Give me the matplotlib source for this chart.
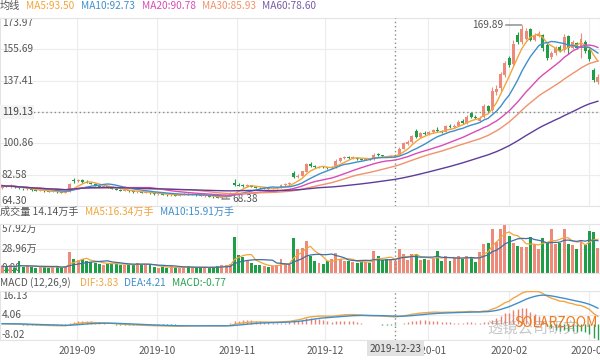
import numpy as np
import pandas as pd
import matplotlib
matplotlib.use("Agg")
import matplotlib.pyplot as plt

plt.rcParams['font.family'] = ['Noto Sans CJK SC', 'DejaVu Sans']

# daily candles, 2019-08 .. 2020-03 (index axis)
opens = [74.8, 76.0, 75.5, 75.8, 75.3, 74.5, 74.0, 74.2, 73.6, 73.1,
         73.3, 72.8, 72.5, 72.8, 72.2, 72.0, 72.5, 79.5, 78.6, 79.3,
         78.5, 77.9, 77.2, 76.0, 75.6, 75.8, 75.1, 74.4, 73.7, 73.2,
         73.4, 72.9, 72.3, 72.6, 72.1, 72.3, 71.6, 71.3, 71.5, 71.0,
         70.6, 70.9, 70.4, 70.8, 71.3, 70.8, 71.2, 70.6, 70.2, 70.4,
         69.8, 69.4, 69.0, 69.3, 70.5, 78.0, 76.8, 76.3, 76.0, 76.3,
         75.6, 75.0, 74.5, 74.8, 74.3, 74.6, 75.0, 76.6, 77.0, 83.5,
         81.0, 82.0, 84.4, 88.6, 87.4, 86.7, 87.2, 86.8, 86.2, 86.9,
         90.6, 92.2, 92.9, 92.3, 92.2, 91.8, 91.4, 91.8, 91.6, 94.4,
         93.8, 93.2, 93.0, 93.0, 94.2, 97.8, 100.6, 101.6, 108.0, 104.8,
         107.0, 106.2, 107.6, 108.8, 108.0, 107.4, 111.0, 110.4, 111.2, 113.6,
         112.8, 118.8, 116.2, 114.0, 116.0, 122.6, 120.4, 131.0, 133.0, 141.0,
         150.6, 147.0, 164.0, 159.8, 162.0, 167.6, 161.4, 163.6, 164.0, 158.4,
         151.0, 153.8, 156.8, 155.2, 163.4, 156.6, 159.4, 156.2, 159.8, 155.4,
         143.8, 136.8]
closes = [76.2, 75.6, 75.9, 75.2, 74.6, 74.0, 74.3, 73.6, 73.1, 73.4,
          72.8, 72.5, 72.9, 72.2, 72.0, 72.4, 77.2, 78.6, 79.2, 78.5,
          78.0, 77.3, 76.0, 75.6, 75.9, 75.2, 74.5, 73.8, 73.2, 73.5,
          72.9, 72.4, 72.7, 72.1, 72.3, 71.7, 71.2, 71.6, 71.0, 70.6,
          70.9, 70.4, 70.8, 71.3, 70.8, 71.2, 70.6, 70.2, 70.5, 69.8,
          69.4, 69.0, 69.3, 70.4, 71.6, 76.6, 76.2, 76.0, 76.4, 75.6,
          75.0, 74.6, 74.8, 74.3, 74.6, 75.0, 76.6, 77.0, 77.5, 81.0,
          82.0, 84.5, 89.0, 87.4, 86.8, 87.2, 86.8, 86.2, 86.8, 90.6,
          92.2, 92.8, 92.2, 93.0, 91.8, 91.4, 91.8, 91.6, 93.8, 93.8,
          93.2, 93.0, 93.3, 94.2, 97.8, 100.8, 101.6, 105.2, 104.6, 106.8,
          106.2, 107.5, 108.6, 107.8, 107.4, 110.8, 110.4, 111.2, 113.4, 112.6,
          116.4, 116.2, 115.4, 115.8, 122.4, 120.0, 131.6, 132.8, 141.2, 147.8,
          146.4, 158.8, 160.2, 167.4, 166.2, 161.2, 163.8, 164.8, 156.2, 150.6,
          153.6, 156.4, 155.0, 163.0, 156.4, 159.8, 156.6, 162.0, 155.0, 150.2,
          137.6, 139.6]
highs = [76.8, 76.5, 76.9, 76.0, 75.6, 74.9, 74.8, 74.5, 73.9, 73.8,
         73.6, 73.1, 73.3, 73.1, 72.6, 72.8, 77.8, 80.6, 80.0, 79.9,
         79.4, 78.4, 77.5, 76.6, 76.4, 76.2, 75.5, 74.8, 74.1, 73.9,
         73.7, 73.2, 73.1, 72.9, 72.8, 72.6, 72.0, 72.0, 71.8, 71.3,
         71.4, 71.2, 71.2, 71.7, 71.6, 71.7, 71.5, 71.0, 70.9, 70.7,
         70.1, 69.8, 69.8, 70.9, 72.2, 79.8, 77.9, 77.0, 77.0, 76.7,
         75.9, 75.4, 75.3, 75.1, 75.0, 75.4, 77.0, 77.6, 78.2, 84.6,
         83.0, 85.0, 89.6, 89.8, 88.0, 87.8, 87.7, 87.2, 87.4, 91.5,
         92.9, 93.6, 93.5, 93.6, 92.8, 92.2, 92.3, 92.2, 95.0, 95.2,
         94.2, 93.6, 93.8, 94.6, 98.5, 101.5, 102.6, 106.0, 109.2, 107.6,
         108.0, 108.2, 109.5, 110.2, 108.6, 111.4, 112.0, 112.2, 114.2, 115.0,
         117.2, 119.4, 117.4, 116.6, 124.0, 123.4, 134.0, 134.6, 142.6, 148.8,
         151.8, 161.4, 165.6, 169.89, 168.0, 168.4, 165.0, 166.2, 164.8, 159.4,
         154.8, 157.6, 158.0, 164.6, 164.2, 161.4, 160.2, 165.0, 161.0, 156.4,
         145.0, 141.2]
lows = [74.5, 75.2, 75.0, 74.9, 74.2, 73.7, 73.6, 73.3, 72.8, 72.9,
        72.5, 72.2, 72.2, 71.9, 71.7, 71.8, 72.4, 78.0, 78.1, 78.0,
        77.6, 76.9, 75.7, 75.3, 75.2, 74.8, 74.2, 73.5, 72.9, 72.9,
        72.6, 72.1, 72.0, 71.8, 71.8, 71.4, 70.9, 71.0, 70.7, 70.3,
        70.3, 70.1, 70.1, 70.5, 70.5, 70.5, 70.3, 69.9, 69.8, 69.5,
        69.0, 68.7, 68.38, 69.1, 70.3, 76.2, 75.8, 75.5, 75.6, 75.2,
        74.7, 74.3, 74.2, 74.0, 74.0, 74.3, 74.8, 76.2, 76.7, 80.4,
        80.5, 81.6, 84.0, 86.9, 86.2, 86.2, 86.3, 85.8, 85.8, 86.6,
        90.2, 91.6, 91.8, 91.9, 91.4, 91.0, 91.0, 91.2, 91.4, 93.4,
        92.9, 92.6, 92.7, 92.8, 94.0, 97.4, 99.8, 101.2, 104.0, 104.2,
        105.6, 105.8, 107.0, 107.4, 106.8, 107.2, 109.8, 110.0, 110.8, 112.0,
        112.4, 115.6, 114.8, 113.2, 115.6, 119.2, 120.0, 128.8, 131.4, 139.6,
        145.2, 146.6, 158.8, 159.0, 161.4, 160.6, 160.6, 162.8, 155.0, 149.2,
        149.8, 152.6, 154.0, 154.4, 153.2, 155.8, 155.6, 150.4, 153.8, 149.0,
        136.4, 135.2]
# volume, 万手
volumes = [8, 7, 9, 6, 14, 7, 8, 7, 6, 8,
           7, 6, 8, 7, 6, 8, 25, 16, 15, 17,
           14, 13, 12, 11, 10, 11, 12, 11, 9, 10,
           9, 10, 12, 11, 10, 9, 7, 6, 7, 6,
           8, 7, 6, 7, 8, 6, 7, 6, 7, 6,
           7, 8, 9, 10, 11, 42, 21, 19, 15, 12,
           10, 9, 8, 7, 8, 9, 17, 12, 10, 41,
           28, 30, 38, 20, 14, 12, 11, 14, 16, 24,
           16, 14, 14, 13, 12, 14, 13, 12, 26, 20,
           15, 17, 16, 14.14, 28, 23, 15, 22, 22, 15,
           17, 15, 17, 26, 14, 20, 14, 18, 20, 16,
           20, 18, 13, 25, 34, 35, 52, 37, 52, 57.5,
           44, 35, 32, 31, 31, 42, 34, 28, 41, 36,
           52, 34, 36, 52, 34, 33, 28, 38, 33, 50,
           48, 30]

tick_pos = [17.7, 36.7, 55.6, 76.4, 100.8, 120.0, 139.0]
tick_labels = ["2019-09", "2019-10", "2019-11", "2019-12", "2020-01", "2020-02", "2020-03"]
price_ticks = [64.30, 82.58, 100.86, 119.13, 137.41, 155.69, 173.97]
vol_ticks = [0, 28.96, 57.92]
vol_tick_labels = ["0.00", "28.96万", "57.92万"]
macd_ticks = [-8.02, 4.06, 16.13]
cross_idx = 93

UP, DOWN = "#ee8a7a", "#1f9e48"
GRID = "#ececec"
C_MA = {"MA5": "#f3a53a", "MA10": "#3f8fcb", "MA20": "#d94bb5", "MA30": "#f0926c", "MA60": "#5e3d99"}
FS = 7.3

df = pd.DataFrame({"o": opens, "c": closes, "h": highs, "l": lows, "v": volumes})
idx = np.arange(len(df))
up = df.c >= df.o
colors = np.where(up, UP, DOWN)

fig = plt.figure(figsize=(6, 3.6), dpi=100)
axp = fig.add_axes([0, 154 / 360, 1, 188 / 360])
axv = fig.add_axes([0, 87 / 360, 1, 49 / 360])
axm = fig.add_axes([0, 20 / 360, 1, 49 / 360])

for ax in (axp, axv, axm):
    ax.set_xlim(-0.5, len(df) - 0.5)
    ax.set_xticks(tick_pos)
    ax.tick_params(length=0, labelleft=False, labelbottom=False)
    ax.grid(True, color=GRID, lw=0.8)
    ax.set_axisbelow(True)
    for s in ax.spines.values():
        s.set_color("#e4e4e4")
        s.set_linewidth(0.8)
    ax.axvline(cross_idx, color="#8a8a8a", ls=(0, (1, 2)), lw=1, zorder=5)


def ylabels(ax, ticks, labels, top_idx):
    # top label hangs below the frame, bottom one sits on it, the rest centred on the grid line
    for k, (t, lab) in enumerate(zip(ticks, labels)):
        va = "top" if k == top_idx else ("bottom" if k == 0 else "center")
        ax.text(0.003, t, lab, transform=ax.get_yaxis_transform(), fontsize=FS,
                color="#555555", va=va, ha="left", zorder=1)


# price panel
axp.set_ylim(price_ticks[0], price_ticks[-1])
axp.set_yticks(price_ticks)
axp.vlines(idx, df.l, df.h, colors=colors, lw=0.8, zorder=2)
body = np.maximum((df.c - df.o).abs(), 0.25)
axp.bar(idx, body, bottom=np.minimum(df.o, df.c), width=0.7, color=colors, zorder=3)
for n, col in C_MA.items():
    w = int(n[2:])
    axp.plot(idx, df.c.rolling(w, min_periods=1).mean(), color=col, lw=1.0, zorder=4)
axp.axhline(price_ticks[3], color="#8a8a8a", ls=(0, (1, 2)), lw=1, zorder=5)
ylabels(axp, [t for k, t in enumerate(price_ticks) if k != 3],
        [f"{t:.2f}" for k, t in enumerate(price_ticks) if k != 3], 5)
axp.text(0.003, price_ticks[3], f"{price_ticks[3]:.2f}", transform=axp.get_yaxis_transform(),
         fontsize=FS, color="#444444", va="center", ha="left", zorder=6,
         bbox=dict(boxstyle="square,pad=0.15", fc="#f4f4f4", ec="none"))
ih, il = int(df.h.idxmax()), int(df.l.idxmin())
axp.annotate(f"{df.h[ih]:.2f}", xy=(ih, df.h[ih]), xytext=(ih - 4.5, df.h[ih]),
             fontsize=FS, color="#555555", ha="right", va="center",
             arrowprops=dict(arrowstyle="-", color="#666666", lw=0.8, shrinkA=0, shrinkB=0))
axp.annotate(f"{df.l[il]:.2f}", xy=(il, df.l[il]), xytext=(il + 2.5, df.l[il]),
             fontsize=FS, color="#555555", ha="left", va="center",
             arrowprops=dict(arrowstyle="-", color="#666666", lw=0.8, shrinkA=0, shrinkB=0))

# volume panel
axv.set_ylim(0, vol_ticks[-1])
axv.set_yticks(vol_ticks)
axv.bar(idx, df.v, width=0.7, color=colors, zorder=2)
axv.plot(idx, df.v.rolling(5, min_periods=1).mean(), color="#f3a53a", lw=0.9, zorder=3)
axv.plot(idx, df.v.rolling(10, min_periods=1).mean(), color="#3f6fa8", lw=0.9, zorder=3)
ylabels(axv, vol_ticks, vol_tick_labels, 2)

# macd panel
ema12 = df.c.ewm(span=12, adjust=False).mean()
ema26 = df.c.ewm(span=26, adjust=False).mean()
dif = ema12 - ema26
dea = dif.ewm(span=9, adjust=False).mean()
hist = 2 * (dif - dea)
axm.set_ylim(macd_ticks[0], macd_ticks[-1])
axm.set_yticks(macd_ticks)
axm.vlines(idx, 0, hist, colors=np.where(hist >= 0, "#e8826f", "#2aa050"), lw=1.0, zorder=2)
axm.plot(idx, dif, color="#f0a646", lw=1.0, zorder=3)
axm.plot(idx, dea, color="#3f8fcb", lw=1.0, zorder=3)
ylabels(axm, macd_ticks, [f"{t:.2f}" for t in macd_ticks], 2)
axm.tick_params(labelbottom=True, pad=4, labelsize=FS, labelcolor="#555555")
axm.set_xticklabels(tick_labels)
axm.text(cross_idx, -0.08, "2019-12-23", transform=axm.get_xaxis_transform(), fontsize=FS,
         color="#444444", ha="center", va="top", zorder=10, clip_on=False,
         bbox=dict(boxstyle="square,pad=0.25", fc="#e2e2e2", ec="none"))


# header rows
def row(y, items):
    for x, s, col in items:
        fig.text(x / 600, 1 - y / 360, s, fontsize=FS, color=col, va="center", ha="left")


row(6, [(0, "均线", "#555555"), (26, "MA5:93.50", "#f3a53a"), (81, "MA10:92.73", "#3f8fcb"),
        (142, "MA20:90.78", "#d94bb5"), (202, "MA30:85.93", "#f0926c"), (262, "MA60:78.60", "#7a5aa8")])
row(212, [(0, "成交量 14.14万手", "#555555"), (85, "MA5:16.34万手", "#f3a53a"),
          (160, "MA10:15.91万手", "#3f8fcb")])
row(283, [(0, "MACD (12,26,9)", "#555555"), (80, "DIF:3.83", "#f0a646"),
          (124, "DEA:4.21", "#3f8fcb"), (172, "MACD:-0.77", "#2aa050")])

# watermark
fig.text(487 / 600, 1 - 329 / 360, "透镜公司研究", fontsize=11, color="#9a9a9a", alpha=0.55,
         va="center", ha="left")
fig.text(514 / 600, 1 - 323 / 360, "SOLARZOOM", fontsize=10, color="#f07a1e",
         va="center", ha="left")

fig.savefig("out.png", dpi=100)
